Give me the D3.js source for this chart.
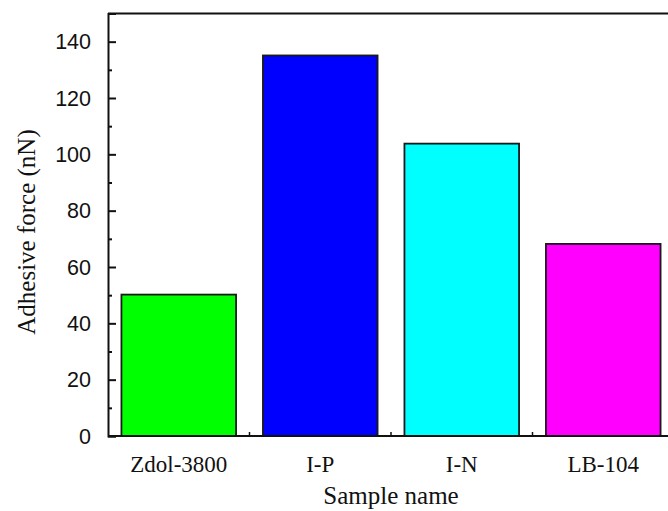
<!DOCTYPE html>
<html>
<head>
<meta charset="utf-8">
<script src="https://cdn.jsdelivr.net/npm/d3@7"></script>
<style>
  html, body { margin: 0; padding: 0; background: #ffffff; }
  svg { display: block; }
</style>
</head>
<body>
<svg id="chart" width="668" height="511"></svg>
<script>
const categories = ["Zdol-3800", "I-P", "I-N", "LB-104"];
const values = [50.2, 135.1, 103.8, 68.2];
const barColors = ["#00ff00", "#0000ff", "#00ffff", "#ff00ff"];
const yTicks = [0, 20, 40, 60, 80, 100, 120, 140];
const yMinorTicks = [10, 30, 50, 70, 90, 110, 130];
const yTitle = "Adhesive force (nN)";
const xTitle = "Sample name";

const svg = d3.select("#chart");
const mLeft = 108, mRight = 674, mTop = 13.5, mBottom = 436;

const x = d3.scaleBand().domain(categories).range([mLeft, mRight]).paddingInner(0.19).paddingOuter(0.095);
const y = d3.scaleLinear().domain([0, 150]).range([mBottom, mTop]);

// bars
svg.append("g").selectAll("rect").data(categories).join("rect")
  .attr("x", d => x(d))
  .attr("y", (d, i) => y(values[i]))
  .attr("width", x.bandwidth())
  .attr("height", (d, i) => y(0) - y(values[i]))
  .attr("fill", (d, i) => barColors[i])
  .attr("stroke", "#1a1a1a")
  .attr("stroke-width", 1.8);

// frame top
svg.append("line")
  .attr("x1", mLeft).attr("x2", mRight + 10)
  .attr("y1", mTop).attr("y2", mTop)
  .attr("stroke", "#111").attr("stroke-width", 2);

// y axis (ticks inward)
const yAxis = d3.axisRight(y).tickValues(yTicks).tickSize(8).tickFormat("");
const gy = svg.append("g").attr("transform", `translate(${mLeft},0)`).call(yAxis);
gy.select(".domain").attr("stroke", "#111").attr("stroke-width", 2);
gy.selectAll(".tick line").attr("stroke", "#111").attr("stroke-width", 2);

const yMinor = d3.axisRight(y).tickValues(yMinorTicks).tickSize(4).tickFormat("");
const gym = svg.append("g").attr("transform", `translate(${mLeft},0)`).call(yMinor);
gym.select(".domain").remove();
gym.selectAll(".tick line").attr("stroke", "#111").attr("stroke-width", 2);

// y tick labels
svg.append("g").selectAll("text").data(yTicks).join("text")
  .attr("x", mLeft - 17)
  .attr("y", d => y(d))
  .attr("dy", "0.36em")
  .attr("text-anchor", "end")
  .attr("font-family", "Liberation Sans, Arial, sans-serif")
  .attr("font-size", 21.5)
  .attr("fill", "#111")
  .text(d => d);

// x axis
const boundaries = categories.slice(1).map(c => x(c) - x.step() * x.paddingInner() / 2);
const xAxis = d3.axisTop(x).tickSize(0).tickFormat("");
const gx = svg.append("g").attr("transform", `translate(0,${mBottom})`).call(xAxis);
gx.select(".domain").attr("d", `M${mLeft},0H${mRight + 10}`).attr("stroke", "#111").attr("stroke-width", 2);
svg.append("g").selectAll("line").data(boundaries).join("line")
  .attr("x1", d => d).attr("x2", d => d)
  .attr("y1", mBottom).attr("y2", mBottom - 4)
  .attr("stroke", "#111").attr("stroke-width", 1.5);

// x category labels
svg.append("g").selectAll("text").data(categories).join("text")
  .attr("x", d => x(d) + x.bandwidth() / 2)
  .attr("y", 472)
  .attr("text-anchor", "middle")
  .attr("font-family", "Liberation Serif, Times New Roman, serif")
  .attr("font-size", 23)
  .attr("fill", "#111")
  .text(d => d);

// axis titles
svg.append("text")
  .attr("transform", `translate(35,232) rotate(-90)`)
  .attr("text-anchor", "middle")
  .attr("font-family", "Liberation Serif, Times New Roman, serif")
  .attr("font-size", 25)
  .attr("fill", "#111")
  .text(yTitle);

svg.append("text")
  .attr("x", (mLeft + mRight) / 2)
  .attr("y", 504)
  .attr("text-anchor", "middle")
  .attr("font-family", "Liberation Serif, Times New Roman, serif")
  .attr("font-size", 25)
  .attr("fill", "#111")
  .text(xTitle);
</script>
</body>
</html>
